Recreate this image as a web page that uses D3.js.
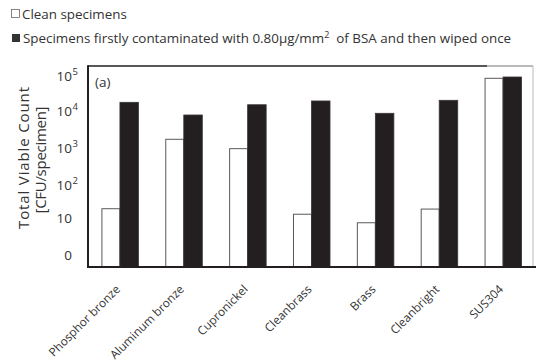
<!DOCTYPE html>
<html>
<head>
<meta charset="utf-8">
<script src="https://cdn.jsdelivr.net/npm/d3@7"></script>
<style>
  html, body { margin: 0; padding: 0; background: #fff; }
  svg { display: block; font-family: "Open Sans", "Noto Sans", sans-serif; }
</style>
</head>
<body>
<svg id="chart" width="536" height="361"></svg>
<script>
// Specimen materials along the x axis
const categories = ["Phosphor bronze", "Aluminum bronze", "Cupronickel", "Cleanbrass", "Brass", "Cleanbright", "SUS304"];
// Total viable count, CFU/specimen
const cleanValues = [23.5, 1610, 910, 16.8, 10, 23, 66000];
const contaminatedValues = [15300, 7070, 13200, 16600, 7840, 17300, 71500];
// Log-axis ticks and their printed labels
const tickValues = [1, 10, 100, 1000, 10000, 100000];
const tickLabels = [["0", ""], ["10", ""], ["10", "2"], ["10", "3"], ["10", "4"], ["10", "5"]];
const seriesNames = ["Clean specimens", "Specimens firstly contaminated with 0.80\u03bcg/mm"];

const svg = d3.select("#chart");
const plotL = 88, plotR = 533, plotT = 66, plotB = 267;
const ink = "#231f20";

const x = d3.scaleBand().domain(categories).range([plotL, plotL + 447]).paddingInner(0.42).paddingOuter(0.21);
const x1 = d3.scaleBand().domain(["clean", "cont"]).range([0, x.bandwidth()]);
const y = d3.scaleLog().domain([Math.pow(10, -0.17), Math.pow(10, 5.145)]).range([plotB, plotT]);

// Bars
const rows = categories.map((c, i) => ({ c, clean: cleanValues[i], cont: contaminatedValues[i] }));
const g = svg.append("g");
rows.forEach(r => {
  g.append("rect")
    .attr("x", x(r.c) + x1("clean") + 0.5)
    .attr("y", y(r.clean))
    .attr("width", x1.bandwidth() - 0.5)
    .attr("height", plotB - y(r.clean))
    .attr("fill", "#fff").attr("stroke", "#5a5a5a").attr("stroke-width", 1);
  g.append("rect")
    .attr("x", x(r.c) + x1("cont"))
    .attr("y", y(r.cont))
    .attr("width", x1.bandwidth())
    .attr("height", plotB - y(r.cont))
    .attr("fill", ink).attr("stroke", "#3a3536").attr("stroke-width", 0.8);
});

// Plot frame
svg.append("line").attr("x1", plotL).attr("x2", 487).attr("y1", plotT).attr("y2", plotT).attr("stroke", ink).attr("stroke-width", 1.6);
svg.append("line").attr("x1", 487).attr("x2", plotR).attr("y1", plotT).attr("y2", plotT).attr("stroke", "#777").attr("stroke-width", 1.2);
svg.append("line").attr("x1", plotR).attr("x2", plotR).attr("y1", plotT).attr("y2", plotB).attr("stroke", "#bbb").attr("stroke-width", 1);
svg.append("line").attr("x1", plotL).attr("x2", plotL).attr("y1", plotT - 0.8).attr("y2", plotB + 1).attr("stroke", ink).attr("stroke-width", 2);
svg.append("line").attr("x1", plotL).attr("x2", 536).attr("y1", plotB).attr("y2", plotB).attr("stroke", ink).attr("stroke-width", 2);

// Y axis labels (log scale): base right-aligned, exponent hanging past it
const labelShift = [-6, -5, 0, 1, 2, 5];
tickValues.forEach((v, i) => {
  const yy = y(v) + labelShift[i] + 5;
  const [base, sup] = tickLabels[i];
  svg.append("text")
    .attr("x", 72).attr("y", yy)
    .attr("text-anchor", "end")
    .attr("font-size", 13.5).attr("fill", "#333")
    .text(base);
  if (sup) {
    svg.append("text")
      .attr("x", 72.5).attr("y", yy - 6)
      .attr("font-size", 9.5).attr("fill", "#333")
      .text(sup);
  }
});

// Y axis title
const yt = svg.append("text").attr("transform", "translate(29,158) rotate(-90)")
  .attr("text-anchor", "middle").attr("font-size", 15).attr("fill", "#333");
yt.append("tspan").attr("x", 0).attr("y", 0)
  .attr("textLength", 142).attr("lengthAdjust", "spacing")
  .text("Total Viable Count");
yt.append("tspan").attr("x", -2).attr("y", 16.5)
  .attr("textLength", 107).attr("lengthAdjust", "spacing")
  .text("[CFU/specimen]");

// Panel letter
svg.append("text").attr("x", 95).attr("y", 87).attr("font-size", 13.5).attr("fill", "#333").text("(a)");

// X labels
const xa = svg.append("g")
  .call(d3.axisBottom(x).tickSize(0).tickPadding(0));
xa.select(".domain").remove();
xa.selectAll(".tick").attr("transform", null);
xa.selectAll(".tick text")
  .attr("font-size", 11.8).attr("fill", "#333")
  .attr("font-family", "'Open Sans', sans-serif")
  .attr("text-anchor", "end")
  .attr("dy", 0).attr("y", 0)
  .attr("transform", d => `translate(${x(d) + x.bandwidth() / 2 + 1},290) rotate(-45)`);

// Legend
const lg = svg.append("g").attr("font-size", 13.4).attr("fill", "#333");
lg.append("rect").attr("x", 11.5).attr("y", 9.5).attr("width", 8).attr("height", 8)
  .attr("fill", "#fff").attr("stroke", "#666").attr("stroke-width", 0.8);
lg.append("text").attr("x", 22).attr("y", 19).text(seriesNames[0]);
lg.append("rect").attr("x", 12).attr("y", 34).attr("width", 8).attr("height", 8).attr("fill", "#333");
const l2 = lg.append("text").attr("x", 23).attr("y", 43);
l2.append("tspan").text(seriesNames[1]);
l2.append("tspan").attr("dy", -5).attr("font-size", 9).text("2");
l2.append("tspan").attr("dy", 5).text("\u00a0 of BSA and then wiped once");
</script>
</body>
</html>
